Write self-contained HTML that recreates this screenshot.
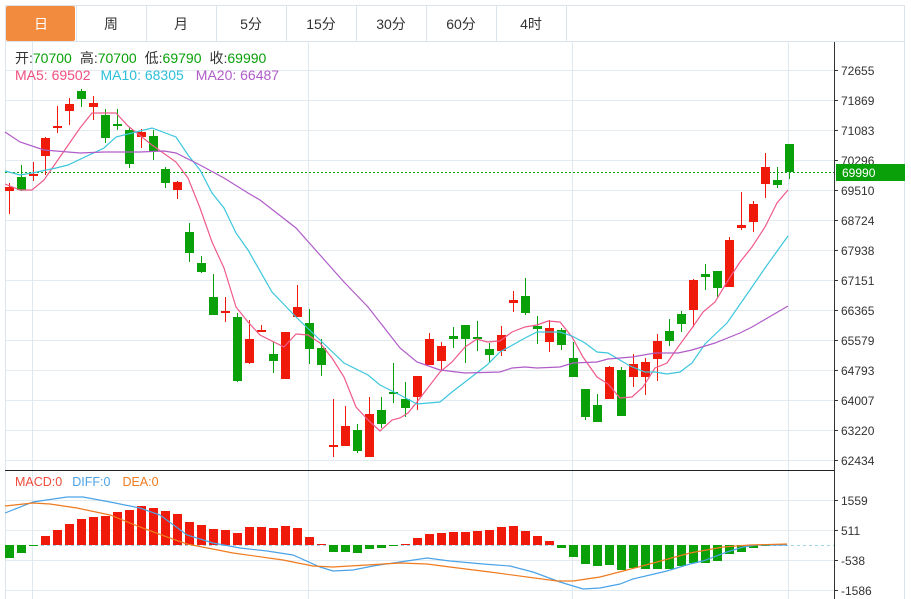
<!DOCTYPE html>
<html><head><meta charset="utf-8">
<style>
html,body{margin:0;padding:0;background:#fff;width:911px;height:599px;overflow:hidden;font-family:"Liberation Sans","Noto Sans CJK SC",sans-serif;}
svg{position:absolute;left:0;top:0}
</style></head>
<body>
<svg id="s" width="911" height="599" xmlns="http://www.w3.org/2000/svg" font-family="Liberation Sans, Noto Sans CJK SC, sans-serif"></svg>
<script>
const s=document.getElementById('s');let h='';
const R='#f01a0a',G='#0aa00a';
h+='<rect x="5.5" y="5.5" width="899" height="36" fill="#fff" stroke="#dde3ea"/>';
const tabs=['日','周','月','5分','15分','30分','60分','4时'];
tabs.forEach((t,i)=>{const x=6+i*70;
 if(i==0)h+='<rect x="6" y="6" width="69" height="35" fill="#f38b3f" rx="2"/>';
 h+='<line x1="'+(x+70.5)+'" y1="6" x2="'+(x+70.5)+'" y2="41" stroke="#dde3ea"/>';
 h+='<text x="'+(x+35)+'" y="29" font-size="14" text-anchor="middle" fill="'+(i==0?'#fff':'#333')+'">'+t+'</text>';});
for(let k=0;k<14;k++){const y=70+k*30;h+='<line x1="5" y1="'+(y+.5)+'" x2="834" y2="'+(y+.5)+'" stroke="#e3eaf0"/>';}
[500,530,560,590].forEach(y=>h+='<line x1="5" y1="'+(y+.5)+'" x2="834" y2="'+(y+.5)+'" stroke="#e3eaf0"/>');
[32,308,572,788].forEach(x=>h+='<line x1="'+(x+.5)+'" y1="42" x2="'+(x+.5)+'" y2="599" stroke="#dde8f0"/>');
h+='<line x1="5.5" y1="42" x2="5.5" y2="599" stroke="#dde3ea"/>';
h+='<line x1="904.5" y1="42" x2="904.5" y2="599" stroke="#dde3ea"/>';
h+='<line x1="5" y1="470.5" x2="834" y2="470.5" stroke="#222"/>';
h+='<line x1="834.5" y1="42" x2="834.5" y2="599" stroke="#333"/>';
const pl=['72655','71869','71083','70296','69510','68724','67938','67151','66365','65579','64793','64007','63220','62434'];
pl.forEach((t,k)=>{const y=70+k*30;h+='<line x1="834" y1="'+(y+.5)+'" x2="838" y2="'+(y+.5)+'" stroke="#333"/><text x="841" y="'+(y+5)+'" font-size="12" fill="#333">'+t+'</text>';});
[['1559',500],['511',530],['-538',560],['-1586',590]].forEach(a=>{h+='<line x1="834" y1="'+(a[1]+.5)+'" x2="838" y2="'+(a[1]+.5)+'" stroke="#333"/><text x="841" y="'+(a[1]+5)+'" font-size="12" fill="#333">'+a[0]+'</text>';});
h+='<line x1="5" y1="172.5" x2="834" y2="172.5" stroke="#0aa00a" stroke-dasharray="2,2"/>';
h+='<rect x="836" y="164" width="69" height="17" fill="#0aa00a"/><text x="842" y="177" font-size="12" fill="#fff">69990</text>';
h+='<text x="15" y="63" font-size="14" fill="#333">开:<tspan fill="#0aa00a">70700</tspan><tspan dx="8">高:</tspan><tspan fill="#0aa00a">70700</tspan><tspan dx="8">低:</tspan><tspan fill="#0aa00a">69790</tspan><tspan dx="8">收:</tspan><tspan fill="#0aa00a">69990</tspan></text>';
h+='<text x="15" y="80" font-size="14" fill="#ef4f7f">MA5: 69502<tspan fill="#2bbfd8" dx="10">MA10: 68305</tspan><tspan fill="#b05cc8" dx="12">MA20: 66487</tspan></text>';
h+='<text x="15" y="486" font-size="12.5" fill="#ef4a3a">MACD:0<tspan fill="#4aa3e8" dx="10">DIFF:0</tspan><tspan fill="#f07a1e" dx="12">DEA:0</tspan></text>';
const C=[['r',187,191,183,214],['g',177,190,165,191],['r',174,175,162,181],['r',138,156,137,175],['r',126,127,106,133],['r',104,111,98,125],['g',91,99,89,107],['r',103,107,96,120],['g',115,138,109,143],['g',124,125,109,130],['g',130,164,127,168],['r',132,137,129,148],['g',136,151,130,160],['g',169,183,167,188],['r',182,190,181,199],['g',232,253,223,262],['g',263,272,256,273],['g',297,315,274,315],['r',311,312,297,322],['g',317,381,313,382],['r',339,363,320,364],['r',330,331,325,332],['g',354,361,342,373],['r',332,379,332,379],['r',307,317,285,317],['g',323,349,309,364],['g',348,365,339,376],['r',445,446,399,457],['r',426,446,406,446],['g',430,451,424,453],['r',414,457,397,457],['g',410,424,397,428],['g',392,394,363,403],['g',399,408,382,417],['r',376,397,376,410],['r',339,365,333,365],['r',346,361,342,370],['g',336,339,327,348],['g',325,339,325,363],['g',337,339,321,351],['g',349,355,343,362],['r',335,351,326,356],['r',300,303,291,312],['g',296,313,278,315],['g',326,329,316,344],['r',328,342,320,352],['g',330,345,328,350],['g',358,377,342,377],['g',389,417,389,420],['g',405,422,394,422],['r',367,399,366,399],['g',370,416,367,416],['r',364,377,354,387],['r',362,377,358,395],['r',341,359,334,381],['g',331,341,319,346],['g',314,324,311,332],['r',280,310,279,327],['g',274,277,264,290],['g',271,288,271,298],['r',240,287,237,287],['r',225,228,192,230],['r',204,222,201,232],['r',167,184,153,198],['g',180,185,167,188],['g',144,172,144,179]];
C.forEach((c,i)=>{const x=9+12*i,col=c[0]=='r'?R:G;
 h+='<line x1="'+(x+.5)+'" y1="'+c[3]+'" x2="'+(x+.5)+'" y2="'+c[4]+'" stroke="'+col+'"/>';
 h+='<rect x="'+(x-4)+'" y="'+c[1]+'" width="9" height="'+Math.max(2,c[2]-c[1])+'" fill="'+col+'"/>';});
function pl2(p,col){h+='<polyline fill="none" stroke="'+col+'" stroke-width="1.2" points="'+p.map(a=>a.join(',')).join(' ')+'"/>';}
pl2([[5,184],[20,190],[32,190],[44,180],[80,128],[92,113],[116,113],[128,126],[152,145],[176,162],[188,178],[200,208],[212,242],[224,268],[236,307],[248,322],[260,335],[284,347],[296,334],[308,335],[320,343],[332,358],[344,377],[356,407],[368,420],[380,431],[392,420],[400,418],[408,413],[417,402],[440,372],[452,362],[465,347],[477,339],[487,342],[500,341],[512,332],[525,327],[537,325],[548,321],[560,322],[572,337],[583,357],[597,377],[608,384],[620,398],[632,397],[643,387],[655,368],[667,363],[678,347],[692,328],[703,312],[715,302],[727,282],[740,262],[752,247],[765,227],[777,203],[788,190]],'#ef5a8a');
pl2([[5,171],[20,175],[32,173],[56,168],[68,165],[104,148],[116,137],[128,134],[152,128],[176,137],[188,155],[200,170],[212,193],[224,208],[236,233],[248,250],[272,292],[296,317],[320,340],[344,363],[368,375],[380,385],[400,395],[417,404],[440,402],[452,392],[465,382],[487,365],[500,352],[525,338],[537,332],[560,332],[572,336],[585,343],[597,352],[608,353],[630,366],[645,372],[655,372],[667,374],[680,372],[692,363],[705,344],[727,323],[752,287],[765,268],[788,236]],'#3cc6dd');
pl2([[5,132],[20,142],[44,150],[80,153],[104,152],[140,152],[164,151],[176,153],[200,165],[224,178],[248,193],[260,200],[296,228],[320,255],[344,282],[368,307],[400,348],[417,362],[440,370],[465,373],[500,372],[512,368],[525,367],[537,368],[560,367],[573,363],[597,362],[608,359],[620,358],[632,357],[655,353],[678,353],[692,350],[715,343],[740,333],[752,327],[788,306]],'#b05cc8');
h+='<line x1="5" y1="545.5" x2="834" y2="545.5" stroke="#9fd3e8" stroke-dasharray="3,3"/>';
const M=[558,553,546,536,530,524,519,517,516,512,510,506,508,511,514,522,525,529,530,533,527,527,528,526,528,537,544,552,552,553,549,548,546,544,538,534,533,532,532,531,530,527,526,531,536,541,548,557,564,566,565,570,568,569,569,569,566,563,563,561,554,552,548,546,545,545];
M.forEach((y,i)=>{const x=9+12*i;if(Math.abs(y-545)<1)return;const up=y<545;
 h+='<rect x="'+(x-4)+'" y="'+(up?y:545)+'" width="9" height="'+Math.abs(y-545)+'" fill="'+(up?R:G)+'"/>';});
pl2([[5,513],[33,502],[67,497],[83,497],[110,502],[140,508],[160,515],[187,535],[213,543],[240,548],[267,551],[293,555],[320,567],[333,571],[353,570],[373,566],[400,562],[427,558],[450,561],[483,564],[510,566],[533,572],[560,582],[583,589],[600,588],[620,584],[633,579],[667,571],[690,564],[703,561],[727,552],[743,547],[757,545],[787,545]],'#4aa3e8');
pl2([[5,506],[33,503],[50,504],[77,508],[110,515],[140,527],[167,537],[187,544],[233,553],[283,560],[313,566],[333,567],[367,565],[400,563],[427,564],[450,567],[490,572],[557,581],[573,581],[600,577],[627,570],[657,562],[690,553],[723,547],[750,545],[787,544]],'#f07a1e');
s.innerHTML=h;
</script>
</body></html>
